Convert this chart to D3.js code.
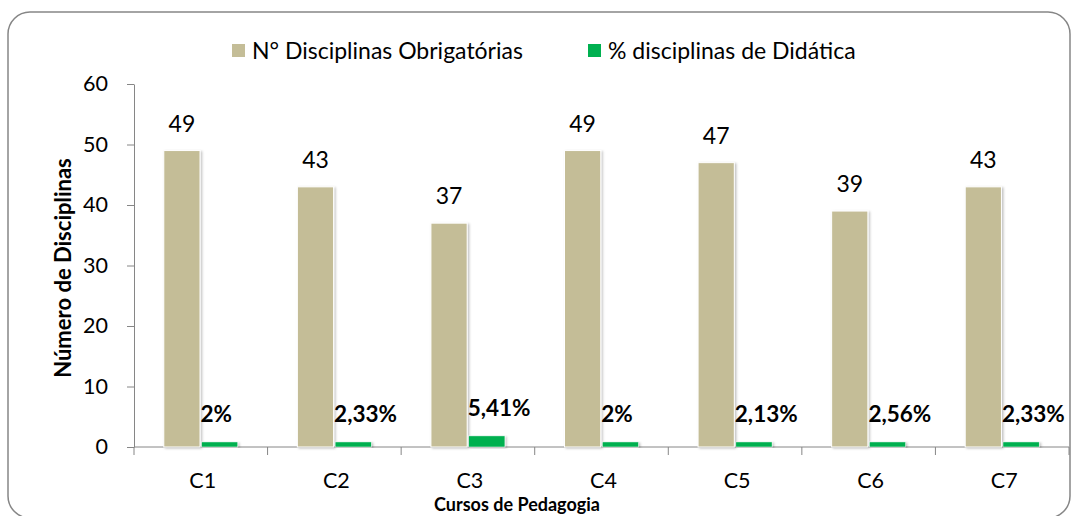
<!DOCTYPE html>
<html>
<head>
<meta charset="utf-8">
<script src="https://cdn.jsdelivr.net/npm/d3@7"></script>
<style>
  body { margin: 0; background: #fff; }
  svg { display: block; font-family: Lato, "Open Sans", sans-serif; }
</style>
</head>
<body>
<script>
// data
var cursos = ["C1", "C2", "C3", "C4", "C5", "C6", "C7"];
var obrigatorias = [49, 43, 37, 49, 47, 39, 43];
var didatica = [1, 1, 2, 1, 1, 1, 1];
var didaticaLabels = ["2%", "2,33%", "5,41%", "2%", "2,13%", "2,56%", "2,33%"];
var series = ["N° Disciplinas Obrigatórias", "% disciplinas de Didática"];
var colors = ["#C4BD97", "#00B050"];
var yTicks = [0, 10, 20, 30, 40, 50, 60];

var width = 1072, height = 516;
var margin = {top: 84, right: 3, bottom: 69, left: 134};

var svg = d3.select("body").append("svg")
    .attr("width", width)
    .attr("height", height);

// drop shadow for the bars
var defs = svg.append("defs");
var f = defs.append("filter").attr("id", "shadow")
    .attr("x", "-20%").attr("y", "-5%").attr("width", "150%").attr("height", "120%");
f.append("feDropShadow").attr("dx", 1.5).attr("dy", 1).attr("stdDeviation", 1)
    .attr("flood-color", "#000").attr("flood-opacity", 0.25);

// chart border
svg.append("rect")
    .attr("x", 8).attr("y", 12)
    .attr("width", 1062).attr("height", 506)
    .attr("rx", 22).attr("ry", 22)
    .attr("fill", "#fff")
    .attr("stroke", "#868686")
    .attr("stroke-width", 1.5);

var x = d3.scaleBand()
    .domain(cursos)
    .range([margin.left, width - margin.right]);

var y = d3.scaleLinear()
    .domain([0, 60])
    .range([height - margin.bottom, margin.top]);

var groupW = 74;
var x1 = d3.scaleBand()
    .domain(series)
    .range([x.bandwidth() / 2 - groupW / 2, x.bandwidth() / 2 + groupW / 2])
    .paddingInner(0.04);

// y axis
var yAxis = svg.append("g")
    .attr("transform", "translate(" + margin.left + ",0)")
    .call(d3.axisLeft(y).tickValues(yTicks).tickSize(7).tickSizeOuter(0).tickPadding(19));
yAxis.select(".domain").attr("stroke", "#868686");
yAxis.selectAll(".tick line").attr("stroke", "#868686");
yAxis.selectAll(".tick text")
    .attr("fill", "#000")
    .style("font-size", "21.5px")
    .style("font-family", "Lato, sans-serif");

// x axis (ticks between categories)
var xAxisG = svg.append("g")
    .attr("transform", "translate(0," + y(0) + ")");
xAxisG.append("line")
    .attr("x1", margin.left).attr("x2", width - margin.right)
    .attr("stroke", "#868686");
xAxisG.selectAll("line.tk")
    .data(d3.range(cursos.length + 1))
    .enter().append("line")
    .attr("class", "tk")
    .attr("x1", function(i) { return margin.left + i * x.step(); })
    .attr("x2", function(i) { return margin.left + i * x.step(); })
    .attr("y1", 0).attr("y2", 8)
    .attr("stroke", "#868686");
xAxisG.selectAll("text")
    .data(cursos)
    .enter().append("text")
    .attr("x", function(d) { return x(d) + x.bandwidth() / 2 + 2; })
    .attr("y", 41)
    .attr("text-anchor", "middle")
    .style("font-size", "21.5px")
    .text(function(d) { return d; });

// bars
var groups = svg.selectAll("g.curso")
    .data(cursos)
    .enter().append("g")
    .attr("class", "curso")
    .attr("transform", function(d) { return "translate(" + x(d) + ",0)"; });

groups.append("rect")
    .attr("x", x1(series[0]))
    .attr("width", x1.bandwidth())
    .attr("y", function(d, i) { return y(obrigatorias[i]); })
    .attr("height", function(d, i) { return y(0) - y(obrigatorias[i]); })
    .attr("fill", colors[0])
    .attr("stroke", "#fff")
    .attr("stroke-width", 1)
    .attr("filter", "url(#shadow)");

groups.append("rect")
    .attr("x", x1(series[1]))
    .attr("width", x1.bandwidth())
    .attr("y", function(d, i) { return y(didatica[i]) + 1; })
    .attr("height", function(d, i) { return y(0) - y(didatica[i]) - 1; })
    .attr("fill", colors[1])
    .attr("stroke", "#fff")
    .attr("stroke-width", 0.5)
    .attr("filter", "url(#shadow)");

// value labels
groups.append("text")
    .attr("x", x1(series[0]) + x1.bandwidth() / 2)
    .attr("y", function(d, i) { return y(obrigatorias[i]) - 19; })
    .attr("text-anchor", "middle")
    .style("font-size", "23px")
    .text(function(d, i) { return obrigatorias[i]; });

groups.append("text")
    .attr("x", x1(series[1]) - 1)
    .attr("y", function(d, i) { return y(didatica[i]) - 19; })
    .style("font-size", "22.5px")
    .style("font-weight", "bold")
    .text(function(d, i) { return didaticaLabels[i]; });

// axis titles
svg.append("text")
    .attr("transform", "translate(71," + 268 + ") rotate(-90)")
    .attr("text-anchor", "middle")
    .style("font-size", "22px")
    .style("font-weight", "bold")
    .text("Número de Disciplinas");

svg.append("text")
    .attr("x", 517).attr("y", 511)
    .attr("text-anchor", "middle")
    .style("font-size", "18px")
    .style("font-weight", "bold")
    .text("Cursos de Pedagogia");

// legend
var legendX = [232, 588];
var legend = svg.selectAll("g.legend")
    .data(series)
    .enter().append("g")
    .attr("class", "legend")
    .attr("transform", function(d, i) { return "translate(" + legendX[i] + ",44)"; });
legend.append("rect")
    .attr("width", 13).attr("height", 13)
    .attr("fill", function(d, i) { return colors[i]; });
legend.append("text")
    .attr("x", 20).attr("y", 14.5)
    .style("font-size", "23px")
    .text(function(d) { return d; });
</script>
</body>
</html>
